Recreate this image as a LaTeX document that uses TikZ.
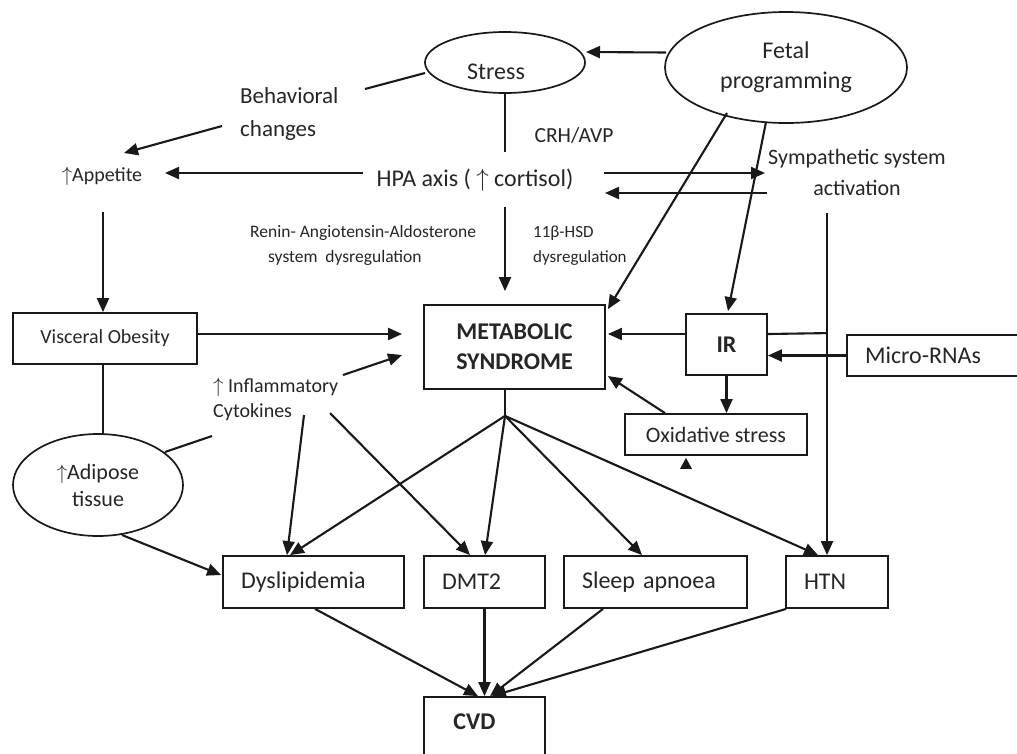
\documentclass[tikz,border=0pt]{standalone}
\usepackage{fontspec}
\setmainfont{Carlito}
\usetikzlibrary{arrows.meta,shapes.geometric,calc}
\begin{document}
\begin{tikzpicture}[x=1pt,y=-1pt,
  line/.style={line width=2.1pt, draw=black!90},
  arr/.style={line, -{Triangle[length=14pt,width=12pt]}},
  box/.style={draw=black!90, line width=1.8pt, rectangle, inner sep=0pt, text=black!85},
  oval/.style={draw=black!90, line width=1.7pt, ellipse, inner sep=0pt, text=black!85, align=center},
  txt/.style={inner sep=0pt, text=black!85},
  fbig/.style={font=\fontsize{24}{30}\selectfont},
  fbold/.style={font=\bfseries\fontsize{24}{30}\selectfont},
]
\useasboundingbox (0,0) rectangle (1017,753);
\fill[white] (0,0) rectangle (1017,753);

% ellipses
\node[oval, minimum width=160, minimum height=61,
  label={[txt,fbig,xshift=-9pt,yshift=-9pt]center:Stress}] (stress) at (505,62.5) {};
\node[oval, minimum width=242, minimum height=111, fbig] (fetal) at (786,67.5) {Fetal\\programming};
\node[oval, minimum width=170, minimum height=102, font=\fontsize{22}{27}\selectfont] (adip) at (98,485) {$\uparrow$Adipose\\tissue};

% free texts
\node[txt, align=left, anchor=west, font=\fontsize{23}{33}\selectfont] (behav) at (240,113.5) {Behavioral\\changes};
\node[txt, font=\fontsize{20}{24}\selectfont] (appet) at (102,176) {$\uparrow$Appetite};
\node[txt, fbig] (hpa) at (475,180) {HPA axis ( $\uparrow$ cortisol)};
\node[txt, font=\fontsize{21.5}{26}\selectfont] (crh) at (574,135) {CRH/AVP};
\node[txt, align=left, anchor=west, font=\fontsize{17.5}{25}\selectfont] (renin) at (250,245.5) {Renin- Angiotensin-Aldosterone\\\hspace*{18pt}system\ \ dysregulation};
\node[txt, align=left, anchor=west, font=\fontsize{17}{25}\selectfont] (hsd) at (533,245.5) {11β-HSD\\dysregulation};
\node[txt, align=center, font=\fontsize{22}{31}\selectfont] (symp) at (857,172.5) {Sympathetic system\\activation};
\node[txt, align=left, anchor=west, font=\fontsize{20}{25}\selectfont] (cyto) at (213,399.5) {$\uparrow$ Inflammatory\\Cytokines};

% boxes
\node[box, minimum width=184, minimum height=51, font=\fontsize{20}{24}\selectfont] (vis) at (105,338.5) {Visceral Obesity};
\node[box, minimum width=181, minimum height=84, align=center, fbold] (mets) at (514.5,347) {METABOLIC\\SYNDROME};
\node[box, minimum width=81, minimum height=61, fbold] (ir) at (726.5,344.5) {IR};
\node[box, minimum width=193, minimum height=41, text width=157, align=left, fbig] (micro) at (943.5,355.5) {Micro-RNAs};
\node[box, minimum width=182, minimum height=41, font=\fontsize{22}{26}\selectfont] (ox) at (716,434.5) {Oxidative stress};
\node[box, minimum width=181, minimum height=52, text width=145, align=left, fbig] (dys) at (313.5,582) {Dyslipidemia};
\node[box, minimum width=121, minimum height=52, text width=85, align=left, fbig] (dmt) at (484.5,582) {DMT2};
\node[box, minimum width=183, minimum height=52, text width=147, align=left, fbig] (sleep) at (655.5,582) {Sleep apnoea};
\node[box, minimum width=102, minimum height=52, text width=66, align=left, fbig] (htn) at (837,582) {HTN};
\node[box, minimum width=121, minimum height=73,
  label={[txt,fbold,xshift=-10pt,yshift=11.5pt]center:CVD}] (cvd) at (484.5,733.5) {};

% connectors
\draw[arr] ($(fetal)+(-120,-15)$) -- ($(stress)+(81,-10.5)$);
\draw[line] ($(stress)+(-80,10.5)$) -- ($(behav.west)+(125,-24.5)$);
\draw[arr] ($(behav.west)+(-18,12.5)$) -- ($(appet)+(22,-23)$);
\draw[arr] ($(hpa)+(-112,-7)$) -- ($(appet)+(63,-3)$);
\draw[line] (stress.south) -- ($(hpa)+(30,-28)$);
\draw[arr] ($(hpa)+(30,27)$) -- ($(mets.north)+(-9.5,-13)$);
\draw[arr] ($(hpa)+(129,-7)$) -- ($(symp)+(-92,0.5)$);
\draw[arr] ($(symp)+(-90,20.5)$) -- ($(hpa)+(130,13)$);
\draw[arr] ($(fetal)+(-59,45.5)$) -- ($(mets.north east)+(2,5)$);
\draw[arr] ($(fetal)+(-20,54.5)$) -- ($(ir.north)+(1.5,-2)$);
\draw[arr] ($(symp)+(-30,40.5)$) -- ($(htn.north)+(-10,0)$);
\draw[line] ($(ir.east)+(0,-10.5)$) -- ($(htn.north)+(-10,-222)$);
\draw[arr] (micro.west) -- ($(ir.east)+(0,11)$);
\draw[arr] ($(ir.west)+(0,-10.5)$) -- ($(mets.east)+(2,-13)$);
\draw[arr] (ir.south) -- ($(ox.north)+(10.5,0)$);
\draw[arr] ($(ox.north)+(-51,0)$) -- ($(mets.east)+(2,29)$);
\fill[black!90] ($(ox.south)+(-30,2)$) -- ++(6,11) -- ++(-12,0) -- cycle;
\draw[arr] ($(vis.east)+(0,-4.5)$) -- ($(mets.west)+(-21,-13)$);
\draw[arr] ($(cyto.west)+(130,-24.5)$) -- ($(mets.west)+(-21,8)$);
\draw[arr] ($(appet)+(1,36)$) -- ($(vis.north)+(-2,0)$);
\draw[line] ($(vis.south)+(-2,0)$) -- ($(adip)+(5,-50)$);
\draw[line] ($(adip)+(67,-33)$) -- ($(cyto.west)+(-1,36.5)$);
\draw[arr] ($(cyto.west)+(91,15.5)$) -- ($(dys.north)+(-26.5,0)$);
\draw[arr] ($(cyto.west)+(117,13.5)$) -- ($(dmt.north)+(-14.5,0)$);
\coordinate (jn) at ($(mets.south)+(-9.5,26)$);
\draw[line] ($(mets.south)+(-9.5,0)$) -- (jn);
\draw[arr] (jn) -- ($(dys.north)+(-23.5,0)$);
\draw[arr] (jn) -- ($(dmt.north)+(0.5,0)$);
\draw[arr] (jn) -- ($(sleep.north)+(-13.5,0)$);
\draw[arr] (jn) -- ($(htn.north)+(-19,0)$);
\draw[arr] ($(adip)+(24,50)$) -- ($(dys.west)+(-1,-7)$);
\draw[arr] ($(dys.south)+(1.5,0)$) -- ($(cvd.north)+(-6.5,0)$);
\draw[arr] (dmt.south) -- (cvd.north);
\draw[arr] ($(sleep.south)+(-52.5,0)$) -- ($(cvd.north)+(5.5,0)$);
\draw[arr] ($(htn.south west)+(1,0)$) -- ($(cvd.north)+(7.5,0)$);
\end{tikzpicture}
\end{document}
